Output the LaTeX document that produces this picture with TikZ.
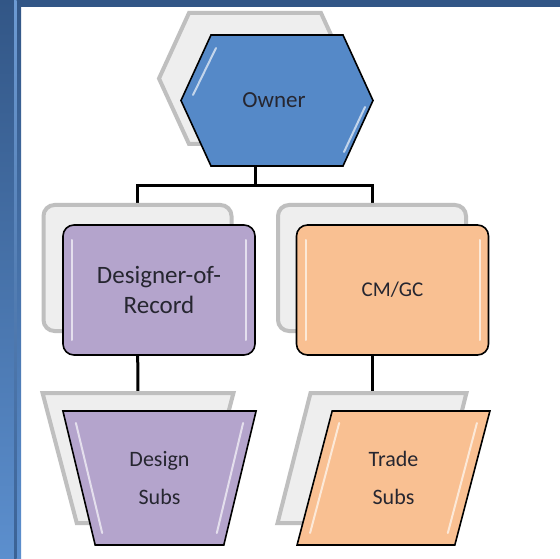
\documentclass[tikz,border=0pt]{standalone}
\usepackage{fontspec}
\setmainfont{Carlito}
\usetikzlibrary{shapes.geometric,backgrounds}
\definecolor{ownerblue}{RGB}{85,137,200}
\definecolor{designlilac}{RGB}{180,164,204}
\definecolor{buildpeach}{RGB}{249,192,146}
\definecolor{inktext}{RGB}{38,38,48}
\definecolor{framedark}{RGB}{50,86,134}
\definecolor{framelight}{RGB}{92,143,206}
\begin{document}
\begin{tikzpicture}[x=1pt, y=-1pt,
       every node/.style={text=inktext, align=center, outer sep=0pt},
       outline/.style={draw=black, line width=1.6pt},
       ghost/.style={draw=gray!50, line width=4pt, fill=gray!13},
       gleam/.style={white, line width=2pt, opacity=.65, line cap=round},
       cardshape/.style={rectangle, rounded corners=11pt,
             minimum width=#1, minimum height=130pt},
       card/.style={outline, cardshape=192pt,
             path picture={
               \draw[gleam] ([shift={(9pt,-15pt)}]path picture bounding box.north west)
                 -- ([shift={(9pt,15pt)}]path picture bounding box.south west);
               \draw[gleam] ([shift={(-9pt,-15pt)}]path picture bounding box.north east)
                 -- ([shift={(-9pt,15pt)}]path picture bounding box.south east);}},
       funnelshape/.style={trapezium, trapezium stretches=true,
             trapezium left angle=105.6, trapezium right angle=105.6,
             minimum width=#1, minimum height=134pt},
       leanshape/.style={trapezium, trapezium stretches=true,
             trapezium left angle=75, trapezium right angle=105,
             minimum width=#1, minimum height=134pt},
       connector/.style={draw=black, line width=3pt}]
\useasboundingbox (0,0) rectangle (560,559);

% owner
\draw[ghost] (189,13) -- (321,13) -- (351,78.5) -- (321,144) -- (189,144) -- (159,78.5) -- cycle
    (255,78.5) node[inner sep=0pt] (ownerbg) {};
\draw[outline, fill=ownerblue] (211,35) -- (343,35) -- (373,100.5) -- (343,166) -- (211,166) -- (181,100.5) -- cycle;
\draw[gleam] (216,48) -- (193,95);
\draw[gleam] (365,107) -- (344,152);
\node[font=\fontsize{23}{28}\selectfont] (owner) at (274,100.5) {Owner};

% second level
\node[ghost, cardshape=188pt, minimum height=126pt] (dorbg) at (137.5,268) {};
\node[card, fill=designlilac, font=\fontsize{25}{30}\selectfont] (dor) at (159,290) {Designer-of-\\Record};
\node[ghost, cardshape=188pt, minimum height=126pt] (cmbg) at (372,268) {};
\node[card, fill=buildpeach, font=\fontsize{21}{25}\selectfont] (cm) at (392.5,290) {CM/GC};

% third level
\node[ghost, funnelshape=191pt, minimum height=130pt] (dsbg) at (138,458) {};
\node[outline, funnelshape=195pt, fill=designlilac, font=\fontsize{22}{38}\selectfont] (ds) at (159.5,478) {Design\\Subs};
\draw[gleam] ([shift={(13pt,-12pt)}]ds.top left corner) -- ([shift={(7pt,12pt)}]ds.bottom left corner);
\draw[gleam] ([shift={(-13pt,-12pt)}]ds.top right corner) -- ([shift={(-7pt,12pt)}]ds.bottom right corner);
\node[ghost, leanshape=189pt, minimum height=130pt] (tsbg) at (372,458) {};
\node[outline, leanshape=193pt, fill=buildpeach, font=\fontsize{22}{38}\selectfont] (ts) at (393.5,478) {Trade\\Subs};
\draw[gleam] ([shift={(7pt,-12pt)}]ts.top left corner) -- ([shift={(13pt,12pt)}]ts.bottom left corner);
\draw[gleam] ([shift={(-13pt,-12pt)}]ts.top right corner) -- ([shift={(-7pt,12pt)}]ts.bottom right corner);

\begin{pgfonlayer}{background}
  \fill[white] (21,7) rectangle (560,559);
  \fill[framedark] (0,0) rectangle (560,7);
  \shade[top color=framedark, bottom color=framelight] (0,0) rectangle (21,559);
  \shade[top color=framelight!90!white, bottom color=framedark!80!framelight] (14,0) rectangle (16.5,559);
  \coordinate (fork) at (255,186);
  \draw[connector] (ownerbg) -- (fork);
  \draw[connector] (dorbg) |- (fork) -| (cmbg);
  \draw[connector] (dorbg) -- (dsbg);
  \draw[connector] (cmbg) -- (tsbg);
\end{pgfonlayer}
\end{tikzpicture}
\end{document}
